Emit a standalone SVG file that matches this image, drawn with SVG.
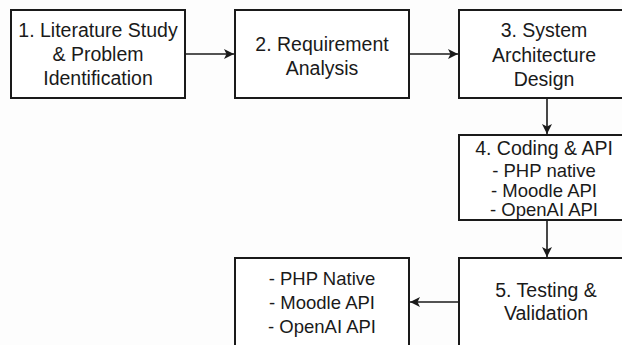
<svg xmlns="http://www.w3.org/2000/svg" width="622" height="345" viewBox="0 0 622 345">
<defs>
<style>
.box{fill:#fff;stroke:#1a1a1a;stroke-width:2}
.t{font-family:"Liberation Sans",Arial,sans-serif;font-size:19.5px;fill:#1a1a1a;text-anchor:middle}
.s{font-size:18.5px}
.c{stroke:#1a1a1a;stroke-width:1.6;fill:none;marker-end:url(#ah)}
</style>
<marker id="ah" viewBox="0 0 10 10" refX="10" refY="5" markerWidth="10" markerHeight="10" markerUnits="userSpaceOnUse" orient="auto">
<path d="M0,0 L10,5 L0,10 L2.5,5 Z" fill="#1a1a1a"/>
</marker>
</defs>
<rect width="622" height="345" fill="#fdfdfd"/>
<g id="n1"><rect class="box" x="11" y="10" width="174" height="88"/>
<text class="t" x="98" y="37">1. Literature Study</text><text class="t" x="98" y="61">&amp; Problem</text><text class="t" x="98" y="85">Identification</text></g>
<g id="n2"><rect class="box" x="235" y="10" width="174" height="88"/>
<text class="t" x="322" y="51">2. Requirement</text><text class="t" x="322" y="75">Analysis</text></g>
<g id="n3"><rect class="box" x="459" y="10" width="170" height="88"/>
<text class="t" x="544" y="37">3. System</text><text class="t" x="544" y="62">Architecture</text><text class="t" x="544" y="86">Design</text></g>
<g id="n4"><rect class="box" x="459" y="135" width="170" height="85"/>
<text class="t" x="544" y="155">4. Coding &amp; API</text><text class="t s" x="544" y="177">- PHP native</text><text class="t s" x="544" y="197">- Moodle API</text><text class="t s" x="544" y="216">- OpenAI API</text></g>
<g id="n5"><rect class="box" x="459" y="258" width="170" height="100"/>
<text class="t" x="546" y="297">5. Testing &amp;</text><text class="t" x="546" y="320">Validation</text></g>
<g id="n6"><rect class="box" x="235" y="258" width="174" height="100"/>
<text class="t s" x="322" y="285">- PHP Native</text><text class="t s" x="322" y="309">- Moodle API</text><text class="t s" x="322" y="333">- OpenAI API</text></g>
<g id="connectors">
<path class="c" d="M185,54 H234"/>
<path class="c" d="M409,54 H458"/>
<path class="c" d="M547,98 V134"/>
<path class="c" d="M547,220 V257"/>
<path class="c" d="M459,302 H410"/>
</g>
</svg>
